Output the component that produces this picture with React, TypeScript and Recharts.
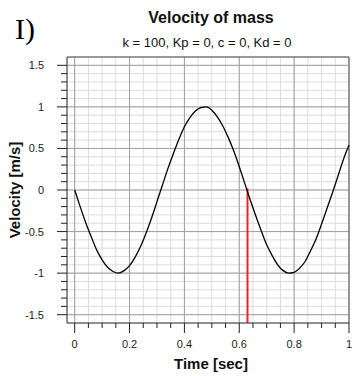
import {
  LineChart,
  Line,
  XAxis,
  YAxis,
  CartesianGrid,
  ReferenceLine,
} from "recharts";

// time samples [sec] and velocity [m/s]
const time = [
  0, 0.02, 0.04, 0.06, 0.08, 0.1, 0.12, 0.14, 0.16, 0.18, 0.2, 0.22, 0.24, 0.26,
  0.28, 0.3, 0.32, 0.34, 0.36, 0.38, 0.4, 0.42, 0.44, 0.46, 0.48, 0.5, 0.52,
  0.54, 0.56, 0.58, 0.6, 0.62, 0.64, 0.66, 0.68, 0.7, 0.72, 0.74, 0.76, 0.78,
  0.8, 0.82, 0.84, 0.86, 0.88, 0.9, 0.92, 0.94, 0.96, 0.98, 1,
];
const velocity = [
  0, -0.2, -0.39, -0.56, -0.72, -0.84, -0.93, -0.98, -1.0, -0.97, -0.91, -0.81,
  -0.68, -0.52, -0.34, -0.14, 0.06, 0.26, 0.44, 0.61, 0.76, 0.87, 0.95, 0.99,
  1.0, 0.96, 0.88, 0.77, 0.63, 0.47, 0.28, 0.08, -0.12, -0.31, -0.49, -0.66,
  -0.79, -0.9, -0.97, -1.0, -0.99, -0.94, -0.86, -0.73, -0.59, -0.41, -0.22,
  -0.03, 0.17, 0.37, 0.54,
];

const xTicks = [
  0, 0.05, 0.1, 0.15, 0.2, 0.25, 0.3, 0.35, 0.4, 0.45, 0.5, 0.55, 0.6, 0.65,
  0.7, 0.75, 0.8, 0.85, 0.9, 0.95, 1,
];
const yTicks = [
  -1.5, -1.4, -1.3, -1.2, -1.1, -1, -0.9, -0.8, -0.7, -0.6, -0.5, -0.4, -0.3,
  -0.2, -0.1, 0, 0.1, 0.2, 0.3, 0.4, 0.5, 0.6, 0.7, 0.8, 0.9, 1, 1.1, 1.2, 1.3,
  1.4, 1.5,
];

// cursor position (red marker)
const markerTime = 0.63;
const markerTop = 0.02;

const xDomain = [-0.028, 1];
const yDomain = [-1.6, 1.6];

const data = time.map((t, i) => ({ t, v: velocity[i] }));

const isMajor = (v: number, step: number) =>
  Math.abs(v / step - Math.round(v / step)) < 1e-6;

const xMajor = xTicks.filter((v) => isMajor(v, 0.2));
const yMajor = yTicks.filter((v) => isMajor(v, 0.5));

const FONT = "'Liberation Sans', Arial, sans-serif";

function XTick({ x, y, payload }: any) {
  const major = isMajor(payload.value, 0.2);
  return (
    <g>
      <line x1={x} x2={x} y1={y} y2={y + (major ? 10 : 5)} stroke="#222" />
      {major && (
        <text x={x} y={y + 25} textAnchor="middle" fontSize={11} fill="#222">
          {String(payload.value)}
        </text>
      )}
    </g>
  );
}

function YTick({ x, y, payload }: any) {
  const major = isMajor(payload.value, 0.5);
  return (
    <g>
      <line x1={x - (major ? 10 : 6)} x2={x} y1={y} y2={y} stroke="#222" />
      {major && (
        <text x={x - 23} y={y + 4} textAnchor="end" fontSize={11} fill="#222">
          {String(payload.value)}
        </text>
      )}
    </g>
  );
}

export default function App() {
  return (
    <div
      style={{
        position: "absolute",
        left: 0,
        top: 0,
        width: 352,
        height: 376,
        background: "#fff",
        fontFamily: FONT,
      }}
    >
      <LineChart
        width={352}
        height={376}
        data={data}
        margin={{ top: 57, right: 3, bottom: 0, left: 0 }}
        style={{ fontFamily: FONT }}
      >
        <CartesianGrid stroke="#dcdcdc" />
        {xMajor.map((v) => (
          <ReferenceLine key={"x" + v} x={v} stroke="#a0a0a0" />
        ))}
        {yMajor.map((v) => (
          <ReferenceLine key={"y" + v} y={v} stroke="#a0a0a0" />
        ))}
        <ReferenceLine y={yDomain[1]} stroke="#444" />
        <ReferenceLine x={xDomain[1]} stroke="#666" />
        <XAxis
          dataKey="t"
          type="number"
          domain={xDomain}
          ticks={xTicks}
          interval={0}
          height={53}
          tickSize={0}
          tickMargin={0}
          tickLine={false}
          tick={<XTick />}
          axisLine={{ stroke: "#333" }}
          label={{
            value: "Time [sec]",
            position: "insideBottom",
            offset: 7,
            dx: 3,
            style: { fontWeight: "bold", fontSize: 15, fill: "#111" },
          }}
        />
        <YAxis
          type="number"
          domain={yDomain}
          ticks={yTicks}
          interval={0}
          width={67}
          tickSize={0}
          tickMargin={0}
          tickLine={false}
          tick={<YTick />}
          axisLine={{ stroke: "#333" }}
          label={{
            value: "Velocity [m/s]",
            angle: -90,
            position: "insideLeft",
            offset: 15,
            style: {
              textAnchor: "middle",
              fontWeight: "bold",
              fontSize: 15,
              fill: "#111",
            },
          }}
        />
        <ReferenceLine
          segment={[
            { x: markerTime, y: yDomain[0] },
            { x: markerTime, y: markerTop },
          ]}
          stroke="#e8242a"
          strokeWidth={2}
        />
        <Line
          type="monotone"
          dataKey="v"
          stroke="#000"
          strokeWidth={1.3}
          dot={false}
          isAnimationActive={false}
        />
      </LineChart>
      <svg
        width={352}
        height={60}
        style={{ position: "absolute", left: 0, top: 0 }}
      >
        <text
          x={15}
          y={39}
          fontFamily="'Liberation Serif', 'Times New Roman', serif"
          fontSize={30}
          fill="#000"
        >
          I)
        </text>
        <text
          x={211}
          y={23}
          textAnchor="middle"
          fontFamily={FONT}
          fontWeight="bold"
          fontSize={16}
          fill="#111"
        >
          Velocity of mass
        </text>
        <text
          x={207}
          y={47}
          textAnchor="middle"
          fontFamily={FONT}
          fontSize={13}
          fill="#111"
        >
          k = 100, Kp = 0, c = 0, Kd = 0
        </text>
      </svg>
    </div>
  );
}
